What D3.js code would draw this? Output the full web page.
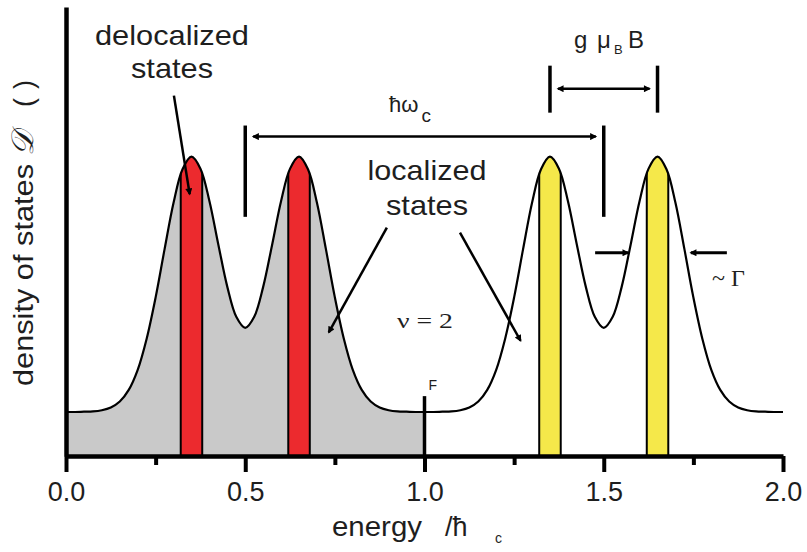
<!DOCTYPE html>
<html>
<head>
<meta charset="utf-8">
<script src="https://cdn.jsdelivr.net/npm/d3@7"></script>
<style>
  html, body { margin: 0; padding: 0; background: #fff; }
  svg { display: block; }
  text { font-family: "Liberation Sans", Arial, Helvetica, sans-serif; fill: #1e1e1e; }
  .serif { font-family: "Liberation Serif", "Times New Roman", serif; }
</style>
</head>
<body>
<svg id="chart" width="807" height="552"></svg>
<script>
// Energy grid (in units of the cyclotron energy) and density of states (arb. units)
const energy = [
  0.000, 0.025, 0.050, 0.075, 0.100, 0.125, 0.150, 0.175, 0.200, 0.225,
  0.250, 0.275, 0.300, 0.325, 0.350, 0.375, 0.400, 0.425, 0.450, 0.475,
  0.500, 0.525, 0.550, 0.575, 0.600, 0.625, 0.650, 0.675, 0.700, 0.725,
  0.750, 0.775, 0.800, 0.825, 0.850, 0.875, 0.900, 0.925, 0.950, 0.975,
  1.000, 1.025, 1.050, 1.075, 1.100, 1.125, 1.150, 1.175, 1.200, 1.225,
  1.250, 1.275, 1.300, 1.325, 1.350, 1.375, 1.400, 1.425, 1.450, 1.475,
  1.500, 1.525, 1.550, 1.575, 1.600, 1.625, 1.650, 1.675, 1.700, 1.725,
  1.750, 1.775, 1.800, 1.825, 1.850, 1.875, 1.900, 1.925, 1.950, 1.975,
  2.000
];
const dos = [
  0.147, 0.147, 0.148, 0.149, 0.153, 0.162, 0.182, 0.221, 0.288, 0.392,
  0.530, 0.691, 0.846, 0.958, 1.000, 0.960, 0.852, 0.706, 0.565, 0.465,
  0.428, 0.465, 0.565, 0.706, 0.852, 0.960, 1.000, 0.958, 0.846, 0.691,
  0.530, 0.392, 0.288, 0.221, 0.182, 0.162, 0.153, 0.149, 0.148, 0.147,
  0.147, 0.147, 0.148, 0.149, 0.153, 0.162, 0.182, 0.221, 0.288, 0.392,
  0.530, 0.691, 0.846, 0.958, 1.000, 0.960, 0.852, 0.706, 0.565, 0.465,
  0.428, 0.465, 0.565, 0.706, 0.852, 0.960, 1.000, 0.958, 0.846, 0.691,
  0.530, 0.392, 0.288, 0.221, 0.182, 0.162, 0.153, 0.149, 0.148, 0.147,
  0.147
];

// Delocalized (extended) state bands at the centre of each spin-split Landau level
const occupiedBands = [[0.32, 0.38], [0.62, 0.68]];
const emptyBands    = [[1.32, 1.38], [1.62, 1.68]];

const fermiEnergy = 1.0;
const majorTicks = [0.0, 0.5, 1.0, 1.5, 2.0];
const minorTicks = [0.25, 0.75, 1.25, 1.75];
const tickLabels = ["0.0", "0.5", "1.0", "1.5", "2.0"];

// Energy spacings marked above the levels
const cyclotronSpan = [0.5, 1.5];
const zeemanSpan    = [1.35, 1.65];
const widthSpan     = [1.568, 1.743];

const svg = d3.select("#chart");
const x = d3.scaleLinear().domain([0, 2]).range([66, 783]);
const y = d3.scaleLinear().domain([0, 1.5]).range([456, 7]);

const pts = energy.map((e, i) => [e, dos[i]]);
const curve = d3.curveCatmullRom;
const area = d3.area().x(d => x(d[0])).y0(y(0)).y1(d => y(d[1])).curve(curve);
const line = d3.line().x(d => x(d[0])).y(d => y(d[1])).curve(curve);

const defs = svg.append("defs");
defs.append("clipPath").attr("id", "under-curve")
  .append("path").attr("d", area(pts));
defs.append("marker")
  .attr("id", "head")
  .attr("viewBox", "0 0 10 10")
  .attr("refX", 8).attr("refY", 5)
  .attr("markerWidth", 11).attr("markerHeight", 7)
  .attr("markerUnits", "userSpaceOnUse")
  .attr("orient", "auto-start-reverse")
  .append("path").attr("d", "M0,0L10,5L0,10z").attr("fill", "#000");

// Filled states below the Fermi energy
svg.append("rect")
  .attr("x", x(0)).attr("y", y(1.5))
  .attr("width", x(fermiEnergy) - x(0)).attr("height", y(0) - y(1.5))
  .attr("fill", "#c9c9c9")
  .attr("clip-path", "url(#under-curve)");

// Extended-state bands
const bandGroups = [
  { bands: occupiedBands, color: "#ec2a2e" },
  { bands: emptyBands, color: "#f5e84a" }
];
bandGroups.forEach(g => {
  svg.append("g").selectAll("rect").data(g.bands).join("rect")
    .attr("x", d => x(d[0])).attr("y", y(1.5))
    .attr("width", d => x(d[1]) - x(d[0])).attr("height", y(0) - y(1.5))
    .attr("fill", g.color)
    .attr("stroke", "#000").attr("stroke-width", 2)
    .attr("clip-path", "url(#under-curve)");
});

// DOS curve
svg.append("path").attr("d", line(pts))
  .attr("fill", "none").attr("stroke", "#000").attr("stroke-width", 2.2);

// Fermi energy marker
svg.append("line")
  .attr("x1", x(fermiEnergy)).attr("x2", x(fermiEnergy))
  .attr("y1", y(0)).attr("y2", y(0.2))
  .attr("stroke", "#000").attr("stroke-width", 3.5);
svg.append("text").attr("x", x(fermiEnergy) + 4).attr("y", 390)
  .attr("font-size", 14).text("F");

// Axes
const xAxis = svg.append("g").attr("transform", `translate(0,${y(0)})`)
  .call(d3.axisBottom(x).tickValues(majorTicks)
    .tickFormat((d, i) => tickLabels[i])
    .tickSize(16).tickSizeOuter(0).tickPadding(10));
xAxis.select(".domain").attr("stroke", "#000").attr("stroke-width", 4.5);
xAxis.selectAll(".tick line").attr("stroke", "#000").attr("stroke-width", 4);
xAxis.selectAll(".tick text")
  .attr("font-size", 27).attr("fill", "#1e1e1e")
  .attr("font-family", "Liberation Sans, Arial, sans-serif");

const xMinor = svg.append("g").attr("transform", `translate(0,${y(0)})`)
  .call(d3.axisBottom(x).tickValues(minorTicks).tickFormat("").tickSize(9).tickSizeOuter(0));
xMinor.select(".domain").remove();
xMinor.selectAll(".tick line").attr("stroke", "#000").attr("stroke-width", 4);

const yAxis = svg.append("g").attr("transform", `translate(${x(0)},0)`)
  .call(d3.axisLeft(y).tickValues([]).tickSizeOuter(0));
yAxis.select(".domain").attr("stroke", "#000").attr("stroke-width", 4.5);

// Axis titles
const yTitle = svg.append("text")
  .attr("transform", "translate(33,386) rotate(-90)")
  .attr("font-size", 27);
yTitle.append("tspan").attr("textLength", 222).attr("lengthAdjust", "spacingAndGlyphs")
  .text("density of states");
yTitle.append("tspan").attr("class", "serif").attr("font-style", "italic")
  .attr("font-size", 31).attr("fill", "#1e1e1e")
  .attr("dx", 8).text("\u{1D49F}");
yTitle.append("tspan").attr("dx", 24).text("(");
yTitle.append("tspan").attr("dx", 9).text(")");

const xTitle = svg.append("g");
xTitle.append("text").attr("x", 332).attr("y", 536).attr("font-size", 27)
  .attr("textLength", 90).attr("lengthAdjust", "spacingAndGlyphs").text("energy");
xTitle.append("text").attr("x", 445).attr("y", 536).attr("font-size", 27).text("/ħ");
xTitle.append("text").attr("x", 495).attr("y", 543).attr("font-size", 14).text("c");

// Bracket helper: two vertical bars with a double arrow between them
function bracket(span, barTop, barBottom, arrowLevel, gap) {
  const g = svg.append("g");
  span.forEach(e => {
    g.append("line").attr("x1", x(e)).attr("x2", x(e))
      .attr("y1", y(barTop)).attr("y2", y(barBottom))
      .attr("stroke", "#000").attr("stroke-width", 3.5);
  });
  g.append("line")
    .attr("x1", x(span[0]) + gap).attr("x2", x(span[1]) - gap)
    .attr("y1", y(arrowLevel)).attr("y2", y(arrowLevel))
    .attr("stroke", "#000").attr("stroke-width", 2.5)
    .attr("marker-start", "url(#head)").attr("marker-end", "url(#head)");
}
bracket(cyclotronSpan, 1.104, 0.799, 1.067, 8);
bracket(zeemanSpan, 1.304, 1.147, 1.227, 8);

// Cyclotron energy label
const hw = svg.append("text").attr("x", 389).attr("y", 112).attr("font-size", 22);
hw.append("tspan").text("ħω");
hw.append("tspan").attr("font-size", 19).attr("dy", 10).attr("dx", 3).text("c");

// Zeeman splitting label
const gz = svg.append("text").attr("y", 48).attr("font-size", 24);
gz.append("tspan").attr("x", 574).text("g");
gz.append("tspan").attr("x", 597).text("μ");
gz.append("tspan").attr("x", 614).attr("dy", 6).attr("font-size", 13).text("B");
gz.append("tspan").attr("x", 628).attr("dy", -6).text("B");

// Level broadening arrows
const wl = 0.679;
svg.append("line")
  .attr("x1", x(widthSpan[0]) - 33).attr("x2", x(widthSpan[0]))
  .attr("y1", y(wl)).attr("y2", y(wl))
  .attr("stroke", "#000").attr("stroke-width", 3)
  .attr("marker-end", "url(#head)");
svg.append("line")
  .attr("x1", x(widthSpan[1]) + 36).attr("x2", x(widthSpan[1]))
  .attr("y1", y(wl)).attr("y2", y(wl))
  .attr("stroke", "#000").attr("stroke-width", 3)
  .attr("marker-end", "url(#head)");
svg.append("text").attr("class", "serif").attr("x", 712).attr("y", 286)
  .attr("font-size", 24).text("~ Γ");

// Filling factor
svg.append("text").attr("class", "serif").attr("x", 397).attr("y", 328)
  .attr("font-size", 22).attr("textLength", 56).attr("lengthAdjust", "spacingAndGlyphs")
  .text("ν = 2");

// Region labels and pointers
function label(lines, cx, baselines, lengths) {
  lines.forEach((t, i) => {
    svg.append("text").attr("x", cx).attr("y", baselines[i])
      .attr("text-anchor", "middle").attr("font-size", 28)
      .attr("textLength", lengths[i]).attr("lengthAdjust", "spacingAndGlyphs")
      .text(t);
  });
}
label(["delocalized", "states"], 172, [45, 78], [154, 82]);
label(["localized", "states"], 427, [180, 215], [119, 82]);

function pointer(from, to) {
  svg.append("line")
    .attr("x1", x(from[0])).attr("y1", y(from[1]))
    .attr("x2", x(to[0])).attr("y2", y(to[1]))
    .attr("stroke", "#000").attr("stroke-width", 2.5)
    .attr("marker-end", "url(#head)");
}
pointer([0.301, 1.204], [0.345, 0.875]);
pointer([0.895, 0.763], [0.733, 0.413]);
pointer([1.099, 0.746], [1.268, 0.385]);
</script>
</body>
</html>
